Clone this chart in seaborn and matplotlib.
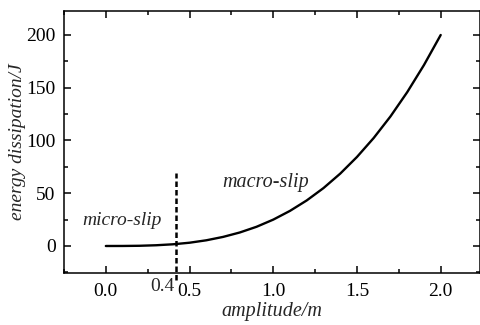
import matplotlib
matplotlib.use("Agg")
import matplotlib.pyplot as plt
import seaborn as sns
import pandas as pd
from matplotlib.ticker import MultipleLocator

amplitude = [0.0, 0.1, 0.2, 0.3, 0.4, 0.5, 0.6, 0.7, 0.8, 0.9, 1.0,
             1.1, 1.2, 1.3, 1.4, 1.5, 1.6, 1.7, 1.8, 1.9, 2.0]
energy = [0.0, 0.03, 0.2, 0.7, 1.6, 3.1, 5.4, 8.6, 12.8, 18.2, 25.0,
          33.3, 43.2, 54.9, 68.6, 84.4, 102.4, 122.8, 145.8, 171.5, 200.0]
boundary_x = 0.418
boundary_label = "0.4"
xticks = [0.0, 0.5, 1.0, 1.5, 2.0]
yticks = [0, 50, 100, 150, 200]

sns.set_style("ticks")
plt.rcParams['font.family'] = ['Liberation Serif', 'DejaVu Serif']

fig = plt.figure(figsize=(4.81, 3.25), dpi=100)
ax = fig.add_axes([0.133, 0.16, 0.865, 0.807])

df = pd.DataFrame({"amplitude": amplitude, "energy": energy})
sns.lineplot(data=df, x="amplitude", y="energy", ax=ax, color="black", linewidth=1.7)

ax.vlines(boundary_x, -32, 69, colors="black", linestyles=(0, (2.2, 1.2)),
          linewidth=1.8, clip_on=False)

ax.set_xlim(-0.25, 2.235)
ax.set_ylim(-25.6, 223)
ax.set_xticks(xticks)
ax.set_yticks(yticks)
ax.set_xticklabels([f"{v:.1f}" for v in xticks])
ax.xaxis.set_minor_locator(MultipleLocator(0.25))
ax.yaxis.set_minor_locator(MultipleLocator(25))
ax.tick_params(which="both", direction="in", top=True, right=True,
               labelsize=14, width=1.1, colors="black")
ax.tick_params(which="major", length=5, pad=6)
ax.tick_params(axis="x", which="major", pad=7.5)
ax.tick_params(which="minor", length=3)
for s in ax.spines.values():
    s.set_linewidth(1.1)
    s.set_color("black")

ax.set_xlabel("amplitude/m", fontsize=14.5, style="italic", labelpad=1)
ax.set_ylabel("energy dissipation/J", fontsize=14, style="italic", labelpad=0)

ax.text(-0.143, 23.7, "micro-slip", fontsize=14, style="italic", va="center", ha="left")
ax.text(0.693, 59.8, "macro-slip", fontsize=14.5, style="italic", va="center", ha="left")
ax.text(0.34, -38, boundary_label, fontsize=14, va="center", ha="center", clip_on=False)

fig.savefig("out.png", dpi=100)
